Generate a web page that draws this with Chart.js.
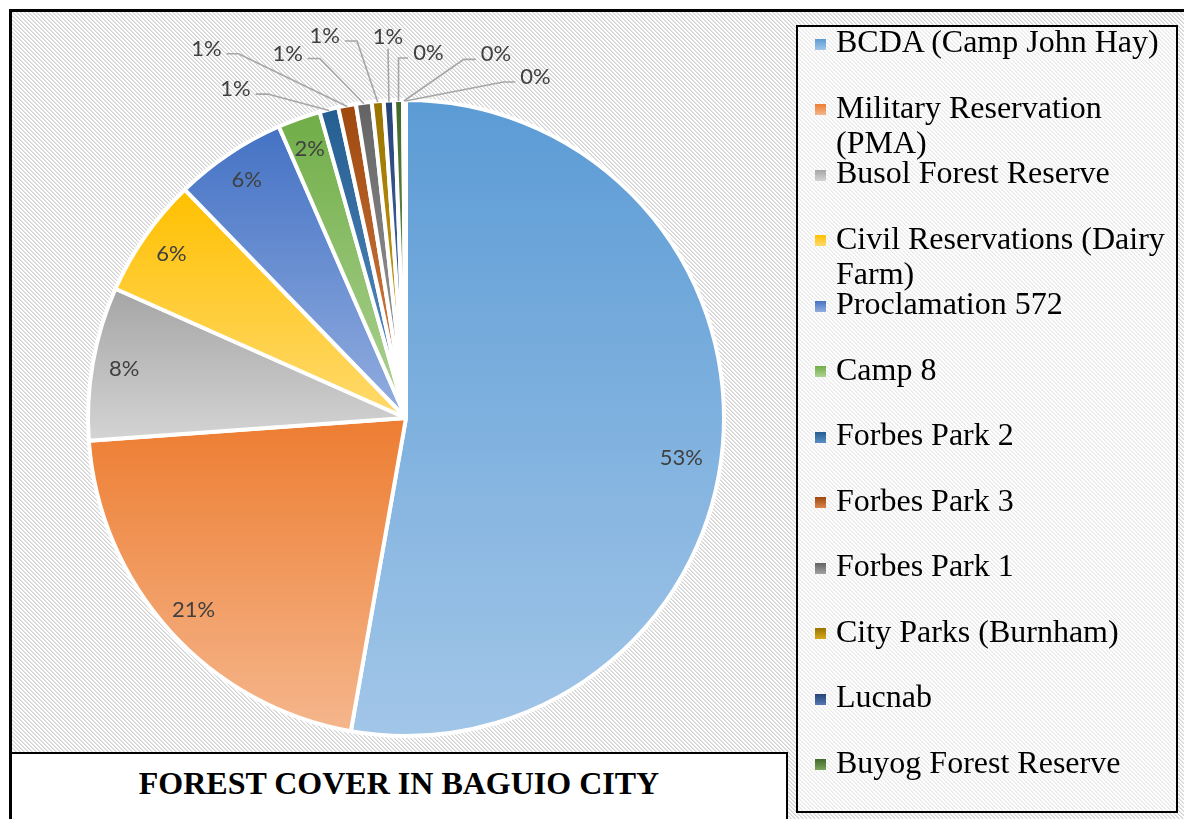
<!DOCTYPE html>
<html>
<head>
<meta charset="utf-8">
<script src="https://cdn.jsdelivr.net/npm/chart.js@4.4.1/dist/chart.umd.min.js"></script>
<style>
html,body{margin:0;padding:0;width:1184px;height:819px;overflow:hidden;background:#fff;}
#stage{position:absolute;left:0;top:0;width:1184px;height:819px;overflow:hidden;background:#fff;}
#frame{position:absolute;left:9px;top:9px;width:1200px;height:840px;box-sizing:border-box;border:3px solid #000;}
#chartWrap{position:absolute;left:0;top:0;width:812px;height:819px;}
#legendBox{position:absolute;left:796px;top:25px;width:382px;height:788px;box-sizing:border-box;border:2px solid #000;background:rgba(255,255,255,0.5);}
.lg-mark{position:absolute;width:11px;height:11px;}
.lg-text{position:absolute;width:336px;font-family:"Liberation Serif","Times New Roman",serif;font-size:32px;line-height:35px;color:#000;}
#titleBox{position:absolute;left:10px;top:752px;width:778px;height:100px;box-sizing:border-box;border:2px solid #000;background:#fff;}
#title{position:absolute;left:10px;width:778px;top:766px;text-align:center;font-family:"Liberation Serif","Times New Roman",serif;font-weight:bold;font-size:32px;line-height:35px;color:#000;}
</style>
</head>
<body>
<div id="stage">
  <div id="frame"></div>
  <div id="chartWrap"><canvas id="pie"></canvas></div>
  <div id="legendBox"></div>
  <div id="legendItems"></div>
  <div id="titleBox"></div>
  <div id="title"></div>
</div>
<script>
// ---------- data ----------
const chartTitle = "FOREST COVER IN BAGUIO CITY";
const categories = [
  "BCDA (Camp John Hay)",
  "Military Reservation (PMA)",
  "Busol Forest Reserve",
  "Civil Reservations (Dairy Farm)",
  "Proclamation 572",
  "Camp 8",
  "Forbes Park 2",
  "Forbes Park 3",
  "Forbes Park 1",
  "City Parks (Burnham)",
  "Lucnab",
  "Buyog Forest Reserve",
  "Other 1",
  "Other 2"
];
const shareValues = [52.8, 21.1, 7.8, 6.1, 5.7, 2.17, 0.96, 0.9, 0.8, 0.6, 0.52, 0.45, 0.08, 0.07];
const legendShown = 12;

// ---------- styles ----------
const baseColors = ['#5B9BD5','#ED7D31','#A5A5A5','#FFC000','#4472C4','#70AD47','#255E91','#9E480E','#636363','#997300','#264478','#43682B','#7CAFDD','#F1975A'];
const tintColors = ['#A2C6E8','#F5B68C','#D4D4D4','#FFDA6E','#93AEE0','#AED394','#5A8FC6','#D9854C','#A3A3A3','#D6A91E','#5677B5','#7AA65C','#B5D2EE','#F8C29C'];
// label placement: null = inside at slice middle; [angleDeg from top clockwise, radius factor]
const labelPlacement = [[98.3,0.875],null,null,null,null,null,
  [332.6,1.165],[331.6,1.32],[342,1.205],[348,1.228],[357.3,1.2],[3.5,1.15],[13.9,1.178],[20.8,1.147]];
const PIE_RADIUS = 318;
const LABEL_FONT = '22px Lato, "Open Sans", sans-serif';

// ---------- hatch background ----------
(function(){
  const c = document.createElement('canvas'); c.width = 4; c.height = 4;
  const g = c.getContext('2d');
  g.fillStyle = '#fff'; g.fillRect(0,0,4,4);
  for (let y=0;y<4;y++) for (let x=0;x<4;x++){
    const m = ((x - y) % 4 + 4) % 4;
    if (m===0){ g.fillStyle='#d2d2d2'; g.fillRect(x,y,1,1); }
    else if (m===1){ g.fillStyle='#e6e6e6'; g.fillRect(x,y,1,1); }
  }
  document.getElementById('frame').style.background = 'url(' + c.toDataURL() + ') repeat';
})();

// ---------- legend & title ----------
(function(){
  const host = document.getElementById('legendItems');
  for (let i=0;i<legendShown;i++){
    const base = 52.5 + 65.5*i;
    const m = document.createElement('div');
    m.className = 'lg-mark';
    m.style.left = '815px'; m.style.top = (base-14)+'px';
    m.style.background = 'linear-gradient(to bottom,' + baseColors[i] + ',' + tintColors[i] + ')';
    host.appendChild(m);
    const t = document.createElement('div');
    t.className = 'lg-text';
    t.style.left = '836px'; t.style.top = (base-28.3)+'px';
    t.textContent = categories[i];
    host.appendChild(t);
  }
  document.getElementById('title').textContent = chartTitle;
})();

function totalShare(){ return shareValues.reduce((a,b)=>a+b,0); }

function sliceFill(c){
  const i = c.dataIndex;
  const chart = c.chart;
  const ca = chart.chartArea;
  if (!ca || i === undefined) return baseColors[i] || '#999';
  const cx = (ca.left+ca.right)/2, cy = (ca.top+ca.bottom)/2, r = PIE_RADIUS;
  const total = totalShare();
  let a0 = -Math.PI/2;
  for (let j=0;j<i;j++) a0 += shareValues[j]/total*2*Math.PI;
  const a1 = a0 + shareValues[i]/total*2*Math.PI;
  const ys = [cy, cy + r*Math.sin(a0), cy + r*Math.sin(a1)];
  for (const t of [-Math.PI/2, Math.PI/2, 3*Math.PI/2]) if (t >= a0 && t <= a1) ys.push(cy + r*Math.sin(t));
  const y0 = Math.min(...ys), y1 = Math.max(...ys);
  const g = chart.ctx.createLinearGradient(0, y0, 0, Math.max(y1, y0+1));
  g.addColorStop(0, baseColors[i]);
  g.addColorStop(1, tintColors[i]);
  return g;
}

const labelPlugin = {
  id: 'sliceLabels',
  afterDatasetsDraw(chart){
    const ctx = chart.ctx;
    const meta = chart.getDatasetMeta(0);
    const total = totalShare();
    ctx.save();
    ctx.font = LABEL_FONT;
    ctx.textAlign = 'center';
    ctx.textBaseline = 'middle';
    meta.data.forEach((arc, i) => {
      const p = arc.getProps(['x','y','startAngle','endAngle','outerRadius'], true);
      const mid = (p.startAngle + p.endAngle)/2;
      const text = Math.round(shareValues[i]/total*100) + '%';
      const place = labelPlacement[i];
      let ang = mid, rf = 0.9;
      if (place){ ang = place[0]*Math.PI/180 - Math.PI/2; rf = place[1]; }
      const lx = p.x + Math.cos(ang)*p.outerRadius*rf;
      const ly = p.y + Math.sin(ang)*p.outerRadius*rf;
      if (rf > 1){
        const ax = p.x + Math.cos(mid)*(p.outerRadius-1);
        const ay = p.y + Math.sin(mid)*(p.outerRadius-1);
        const w = ctx.measureText(text).width;
        ctx.strokeStyle = '#a6a6a6';
        ctx.lineWidth = 1.6;
        ctx.beginPath();
        if (Math.abs(ax - lx) <= w/2){
          ctx.moveTo(lx, ly + 12);
          ctx.lineTo(ax, ay);
        } else if (ax > lx){
          const sx = lx + w/2 + 5, sy = ly + 5;
          ctx.moveTo(sx, sy);
          ctx.lineTo(sx + Math.min(12, ax - sx), sy);
          ctx.lineTo(ax, ay);
        } else {
          const sx = lx - w/2 - 5, sy = ly + 5;
          ctx.moveTo(sx, sy);
          ctx.lineTo(sx - Math.min(12, sx - ax), sy);
          ctx.lineTo(ax, ay);
        }
        ctx.stroke();
      }
      ctx.fillStyle = '#404040';
      ctx.fillText(text, lx, ly);
    });
    ctx.restore();
  }
};

new Chart(document.getElementById('pie'), {
  type: 'pie',
  data: {
    labels: categories,
    datasets: [{
      data: shareValues,
      backgroundColor: sliceFill,
      borderColor: '#ffffff',
      borderWidth: 4,
      hoverBorderWidth: 4
    }]
  },
  options: {
    responsive: true,
    maintainAspectRatio: false,
    animation: false,
    events: [],
    radius: PIE_RADIUS,
    layout: { padding: { top: 17, bottom: 0, left: 0, right: 0 } },
    plugins: { legend: { display: false }, tooltip: { enabled: false }, title: { display: false } }
  },
  plugins: [labelPlugin]
});
</script>
</body>
</html>
